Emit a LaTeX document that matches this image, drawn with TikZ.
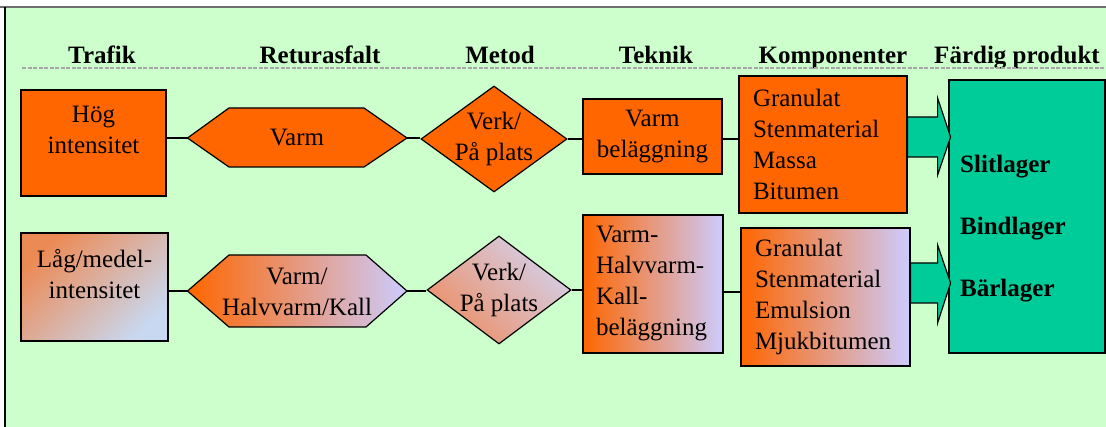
\documentclass[tikz,border=0pt]{standalone}
\usepackage{fontspec}
\setmainfont{Liberation Serif}
\usetikzlibrary{shapes.geometric, calc}
\definecolor{asforange}{HTML}{FF6600}
\definecolor{mintbg}{HTML}{CCFFCC}
\definecolor{lagerteal}{HTML}{00CC99}
\definecolor{lavendel}{HTML}{CCCCFF}
\definecolor{lagtop}{HTML}{EC8A55}
\definecolor{lagbot}{HTML}{C8D8F0}
\definecolor{dimtop}{HTML}{D4D0EA}
\definecolor{dimbot}{HTML}{EC9068}
\definecolor{ramgray}{HTML}{6E6E6E}

\begin{document}
\begin{tikzpicture}[
    x=1pt, y=-1pt,
    every node/.style={font=\fontsize{25}{31}\selectfont, text=black},
  ]
  \useasboundingbox (0,0) rectangle (1106,427);

  % Background
  \fill[mintbg] (5,7) rectangle (1106,427);
  \draw[ramgray, line width=1.5pt] (0,7) -- (1106,7);
  \draw[black, line width=2pt] (5,7) -- (5,427);

  % --- Styles ---
  \tikzset{
    head/.style={font=\fontsize{25}{31}\selectfont\bfseries, anchor=base},
    box/.style={draw=black, line width=1.2pt, inner sep=0pt, align=center},
    listbox/.style={box, align=left, text width=140pt, inner xsep=14pt},
    hexa/.style={draw=black, line width=1.2pt},
    ruta/.style={diamond, draw=black, line width=1.2pt, inner sep=0pt},
    grad/.style={left color=asforange, right color=lavendel},
    conn/.style={black, line width=1.2pt},
    blockarr/.style={draw=black, fill=lagerteal, line width=1.2pt},
  }

  % --- Column headers ---
  \node[head] (hTrafik) at (102,64)  {Trafik};
  \node[head] (hRetur)  at (320,64)  {Returasfalt};
  \node[head] (hMetod)  at (500,64)  {Metod};
  \node[head] (hTeknik) at (656,64)  {Teknik};
  \node[head] (hKomp)   at (833,64)  {Komponenter};
  \node[head] (hProd)   at (1017,64) {Färdig produkt};
  \draw[gray!70, line width=1.2pt, dash pattern=on 4pt off 1.5pt] (22,68) -- (1106,68);

  % --- Row 1: hög intensitet ---
  \node[box, fill=asforange, minimum width=145pt, minimum height=106pt]
    (hog) at (93.5,143) {Hög\\intensitet\\[-5pt]\mbox{}};

  \coordinate (varmW) at (187.5,138);
  \coordinate (varmE) at (407,138);
  \filldraw[hexa, fill=asforange] (varmW) -- (229,108) -- (364,108) -- (varmE)
    -- (364,167) -- (229,167) -- cycle;
  \node (varm) at (297,138) {Varm};

  \node[ruta, fill=asforange, minimum width=146pt, minimum height=106pt,
        label={[align=center]center:Verk/\\På plats}] (metod1) at (494,139) {};

  \node[box, fill=asforange, minimum width=139pt, minimum height=75pt]
    (tek1) at (652.5,136.5) {Varm\\beläggning};

  \node[listbox, fill=asforange, minimum height=137pt]
    (komp1) at (823,144.5) {Granulat\\Stenmaterial\\Massa\\Bitumen};

  % --- Row 2: låg/medel intensitet ---
  \node[box, top color=lagtop, bottom color=lagbot, shading angle=45,
        minimum width=147pt, minimum height=108pt]
    (lag) at (94.5,287) {Låg/medel-\\intensitet\\[-5pt]\mbox{}};

  \coordinate (hexW) at (187.5,291);
  \coordinate (hexE) at (407,291);
  \shadedraw[hexa, grad] (hexW) -- (229,255) -- (366,255) -- (hexE)
    -- (366,327) -- (229,327) -- cycle;
  \node[align=center] (vhk) at (297,292) {Varm/\\Halvvarm/Kall};

  \node[ruta, top color=dimtop, bottom color=dimbot, shading angle=-45,
        minimum width=144pt, minimum height=108pt,
        label={[align=center]center:Verk/\\På plats}] (metod2) at (499,290) {};

  \node[box, grad, align=left, text width=114pt, inner xsep=13pt, minimum height=138pt]
    (tek2) at (653,284) {Varm-\\Halvvarm-\\Kall-\\beläggning};

  \node[listbox, grad, text width=141pt, minimum height=138pt]
    (komp2) at (825.5,297) {Granulat\\Stenmaterial\\Emulsion\\Mjukbitumen};

  % --- Finished product ---
  \node[box, fill=lagerteal, minimum width=156pt, minimum height=273pt]
    (prod) at (1027,216.5) {};
  \node[font=\fontsize{25}{31}\selectfont\bfseries, align=left, inner sep=0pt,
        anchor=west] (lager) at (960,229) {Slitlager\\[31pt]Bindlager\\[31pt]Bärlager};

  % --- Connectors ---
  \draw[conn] (hog.east |- varmW) -- (varmW);
  \draw[conn] (varmE) -- (varmE -| metod1.west);
  \draw[conn] (metod1.east) -- (metod1.east -| tek1.west);
  \draw[conn] (tek1.east |- metod1.east) -- (metod1.east -| komp1.west);

  \draw[conn] (lag.east |- hexW) -- (hexW);
  \draw[conn] (hexE) -- (hexE -| metod2.west);
  \draw[conn] (metod2.east) -- (metod2.east -| tek2.west);
  \draw[conn] ([yshift=-8pt]tek2.east) -- ([yshift=-8pt]tek2.east -| komp2.west);

  % --- Block arrows into product ---
  \filldraw[blockarr] ([yshift=27.5pt]komp1.east) -- ++(30,0) -- ++(0,-19)
    -- ++(13,39) -- ++(-13,38) -- ++(0,-18) -- ([yshift=-12.5pt]komp1.east) -- cycle;
  \filldraw[blockarr] ([yshift=34pt]komp2.east) -- ++(27,0) -- ++(0,-18)
    -- ++(13,38) -- ++(-13,40) -- ++(0,-20) -- ([yshift=-6pt]komp2.east) -- cycle;

\end{tikzpicture}
\end{document}
